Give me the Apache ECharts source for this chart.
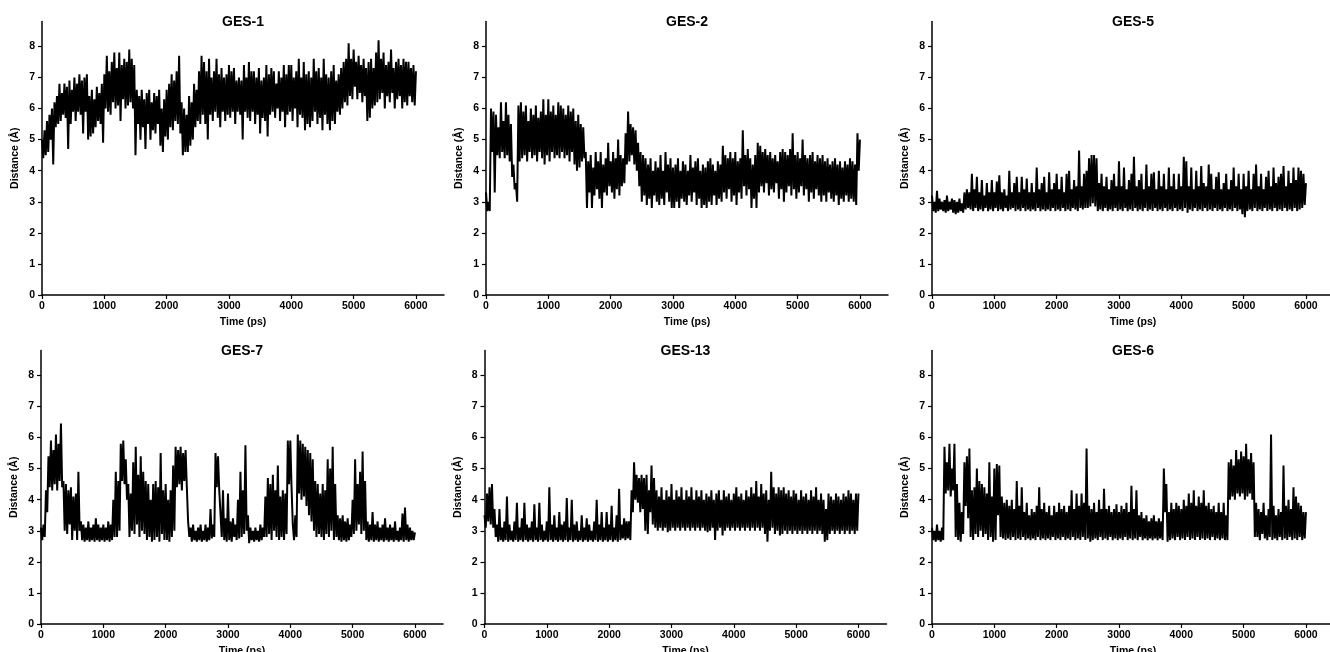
<!DOCTYPE html>
<html>
<head>
<meta charset="utf-8">
<title>GES distance</title>
<script src="https://cdn.jsdelivr.net/npm/echarts@6/dist/echarts.min.js"></script>
<style>
  html, body { margin: 0; padding: 0; background: #fff; }
  #dist-chart { width: 1330px; height: 652px; }
</style>
</head>
<body>
<div id="dist-chart"></div>
<script>
// upper samples at 0,40,80.. ps, lower samples at 20,60,100.. ps
const stepPs = 40;
const panelNames = ['GES-1', 'GES-2', 'GES-5', 'GES-7', 'GES-13', 'GES-6'];
const timeTicks = [0, 1000, 2000, 3000, 4000, 5000, 6000];
const distTicks = [0, 1, 2, 3, 4, 5, 6, 7, 8];

const ges1Hi = [5.0, 5.3, 5.6, 5.8, 6.0, 6.2, 6.4, 6.8, 6.5, 6.8, 6.7, 6.9, 6.6, 7.0, 6.8, 7.1, 6.9, 7.0, 7.1, 6.4,
  6.6, 6.3, 6.7, 6.5, 6.8, 7.1, 7.7, 7.2, 7.5, 7.8, 7.3, 7.8, 7.4, 7.6, 7.5, 7.9, 7.6, 7.4, 6.6, 6.4,
  6.6, 6.3, 6.5, 6.6, 6.2, 6.5, 6.4, 6.6, 6.0, 6.3, 6.6, 6.8, 7.1, 6.9, 7.2, 7.7, 6.2, 6.0, 5.8, 6.4,
  6.2, 6.8, 6.6, 7.2, 7.7, 7.5, 7.2, 7.6, 7.0, 7.2, 7.6, 7.1, 7.3, 7.0, 7.1, 7.4, 7.2, 7.3, 6.9, 7.0,
  6.9, 7.4, 7.0, 7.5, 7.2, 7.2, 7.0, 7.3, 6.9, 7.0, 7.4, 7.1, 7.3, 7.2, 6.8, 7.2, 7.0, 7.4, 7.1, 7.4,
  7.4, 7.0, 7.2, 7.6, 7.0, 7.5, 7.1, 7.2, 7.0, 7.6, 7.2, 7.3, 7.0, 7.6, 7.1, 7.0, 7.2, 7.4, 6.9, 7.1,
  7.3, 7.5, 7.6, 8.1, 7.6, 7.9, 7.5, 7.7, 7.4, 7.6, 7.3, 7.5, 7.6, 7.3, 7.8, 8.2, 7.6, 7.8, 7.4, 7.5,
  7.9, 7.3, 7.5, 7.6, 7.4, 7.6, 7.5, 7.5, 7.3, 7.4, 7.2];
const ges1Lo = [4.4, 4.5, 4.6, 5.0, 4.2, 5.4, 5.5, 5.6, 5.8, 5.7, 4.7, 5.5, 5.9, 5.6, 5.9, 5.8, 5.2, 5.9, 5.0, 5.1,
  5.2, 5.4, 5.6, 5.5, 4.9, 6.0, 5.9, 5.8, 6.2, 6.0, 6.1, 5.6, 6.3, 6.0, 6.1, 6.2, 6.0, 4.5, 5.5, 5.0,
  5.4, 4.7, 5.5, 5.0, 5.3, 5.2, 5.5, 4.8, 4.6, 5.1, 5.0, 5.4, 5.3, 5.6, 5.5, 5.2, 4.5, 4.6, 4.6, 4.8,
  5.0, 5.4, 5.6, 5.5, 5.8, 5.5, 5.0, 5.8, 5.6, 5.9, 5.7, 5.4, 5.9, 5.6, 5.8, 5.7, 5.9, 5.5, 5.9, 5.8,
  5.0, 5.9, 5.7, 5.6, 5.9, 5.5, 5.8, 5.2, 5.7, 5.6, 5.1, 5.8, 5.9, 5.7, 6.0, 5.6, 5.9, 5.4, 5.8, 5.9,
  5.6, 6.0, 5.4, 5.8, 5.7, 5.3, 5.5, 5.4, 5.6, 5.9, 5.5, 5.7, 5.3, 5.8, 5.5, 5.3, 5.6, 5.5, 5.9, 5.8,
  6.0, 6.2, 6.1, 6.4, 6.3, 6.7, 6.3, 6.5, 6.2, 6.4, 5.6, 5.7, 6.0, 6.1, 6.2, 6.3, 6.5, 6.0, 6.4, 6.2,
  6.5, 6.0, 6.3, 6.4, 6.0, 6.2, 6.1, 6.4, 6.2, 6.1];

const ges2Hi = [3.3, 3.0, 6.0, 5.9, 5.8, 5.4, 6.2, 5.6, 6.2, 5.8, 5.5, 4.2, 3.6, 6.1, 6.2, 5.9, 6.1, 5.6, 6.0, 5.8,
  6.1, 5.7, 5.9, 6.3, 5.8, 6.3, 5.9, 6.1, 5.8, 6.2, 6.1, 6.0, 5.8, 6.1, 5.9, 6.0, 5.6, 5.8, 5.5, 5.4,
  4.6, 4.3, 4.5, 4.1, 4.6, 4.3, 4.6, 4.2, 4.4, 4.9, 4.3, 4.6, 4.4, 5.0, 4.5, 4.4, 5.2, 5.9, 5.5, 5.4,
  5.3, 4.9, 4.6, 4.5, 4.4, 4.2, 4.4, 4.0, 4.3, 4.1, 4.5, 4.0, 4.6, 4.2, 4.4, 4.1, 4.2, 4.4, 4.0, 4.3,
  4.2, 4.0, 4.5, 4.1, 4.3, 4.4, 4.0, 4.2, 4.1, 4.3, 4.4, 4.2, 4.0, 4.3, 4.2, 4.8, 4.5, 4.4, 4.6, 4.4,
  4.6, 4.3, 4.4, 5.3, 4.5, 4.7, 4.4, 4.2, 4.5, 4.9, 4.8, 4.6, 4.7, 4.5, 4.6, 4.4, 4.5, 4.3, 4.6, 4.7,
  4.6, 4.5, 4.7, 5.2, 4.5, 4.6, 4.4, 5.0, 4.5, 4.4, 4.5, 4.6, 4.3, 4.5, 4.4, 4.5, 4.3, 4.4, 4.2, 4.3,
  4.4, 4.2, 4.3, 4.1, 4.3, 4.2, 4.4, 4.3, 4.2, 5.2, 5.0];
const ges2Lo = [2.7, 2.7, 4.6, 3.3, 4.5, 4.4, 4.6, 4.4, 4.5, 4.3, 3.8, 3.4, 3.0, 4.3, 4.4, 4.5, 4.3, 4.6, 4.4, 4.5,
  4.3, 4.6, 4.4, 4.2, 4.5, 4.3, 4.6, 4.4, 4.5, 4.4, 4.6, 4.4, 4.5, 4.3, 4.6, 4.2, 4.0, 4.1, 4.3, 4.4,
  2.8, 3.3, 2.8, 3.2, 3.4, 3.1, 2.8, 3.3, 3.2, 3.5, 3.3, 3.1, 3.4, 3.2, 3.5, 3.6, 4.2, 4.3, 4.5, 4.2,
  4.0, 3.5, 3.0, 3.2, 2.9, 3.1, 2.8, 3.2, 3.0, 2.9, 3.1, 2.9, 3.3, 3.0, 2.8, 2.8, 3.0, 2.8, 3.1, 3.0,
  2.9, 3.2, 3.0, 3.3, 2.9, 3.1, 2.8, 2.9, 2.8, 3.0, 2.9, 3.2, 2.9, 3.1, 3.0, 3.3, 3.1, 3.4, 3.0, 3.2,
  2.9, 3.3, 3.1, 3.5, 3.2, 3.4, 2.8, 3.1, 2.8, 3.3, 3.5, 3.3, 3.6, 3.2, 3.4, 3.3, 3.6, 3.1, 3.4, 3.0,
  3.3, 3.5, 3.2, 3.4, 3.1, 3.3, 3.5, 3.2, 3.4, 3.0, 3.3, 3.1, 3.4, 3.2, 3.0, 3.2, 3.0, 3.3, 3.1, 3.0,
  3.2, 2.9, 3.1, 3.0, 3.2, 3.0, 3.1, 3.0, 2.9, 4.0];

const ges5Hi = [3.2, 3.0, 3.35, 3.1, 3.0, 3.05, 3.2, 3.0, 3.1, 3.05, 3.0, 3.1, 2.95, 3.3, 3.4, 3.3, 3.9, 3.4, 3.8, 3.3,
  3.7, 3.2, 3.6, 3.3, 3.7, 3.3, 3.65, 3.85, 3.3, 3.4, 3.2, 4.0, 3.3, 3.6, 3.8, 3.3, 3.8, 3.4, 3.75, 3.3,
  3.6, 3.3, 4.1, 3.4, 3.6, 3.8, 3.3, 3.95, 3.4, 3.6, 3.9, 3.4, 3.8, 3.3, 3.9, 4.0, 3.4, 3.7, 3.5, 4.65,
  3.5, 3.9, 4.0, 4.4, 4.5, 4.5, 4.4, 3.6, 3.9, 3.5, 3.8, 3.4, 3.7, 3.9, 3.5, 4.3, 3.5, 4.1, 3.4, 3.7,
  3.9, 4.45, 3.5, 3.7, 3.9, 3.4, 4.2, 3.5, 3.9, 3.95, 3.4, 4.0, 3.5, 3.9, 3.4, 4.1, 3.5, 3.9, 3.4, 3.9,
  3.5, 4.45, 4.3, 3.5, 4.1, 3.4, 4.0, 3.5, 4.15, 3.6, 3.5, 4.2, 3.9, 3.4, 3.8, 3.95, 3.4, 3.6, 3.9, 3.4,
  3.7, 4.1, 3.5, 3.9, 3.4, 3.9, 3.5, 4.0, 3.4, 3.9, 4.2, 3.5, 3.9, 3.4, 3.8, 4.0, 3.5, 4.1, 3.6, 3.8,
  3.9, 4.15, 3.5, 4.0, 3.6, 4.1, 3.7, 4.1, 4.0, 3.9, 3.6];
const ges5Lo = [2.7, 2.65, 2.7, 2.75, 2.7, 2.65, 2.7, 2.75, 2.65, 2.6, 2.65, 2.7, 2.65, 2.75, 2.8, 2.75, 2.7, 2.8, 2.7, 2.75,
  2.7, 2.8, 2.7, 2.75, 2.7, 2.8, 2.7, 2.75, 2.7, 2.8, 2.7, 2.75, 2.8, 2.7, 2.75, 2.7, 2.8, 2.7, 2.75, 2.7,
  2.75, 2.7, 2.8, 2.7, 2.75, 2.7, 2.75, 2.7, 2.8, 2.7, 2.75, 2.7, 2.8, 2.7, 2.75, 2.7, 2.8, 2.75, 2.7, 2.8,
  2.75, 2.8, 2.8, 2.85, 2.95, 2.85, 2.7, 2.75, 2.7, 2.8, 2.7, 2.75, 2.7, 2.8, 2.7, 2.75, 2.7, 2.8, 2.7, 2.75,
  2.7, 2.8, 2.7, 2.75, 2.7, 2.8, 2.7, 2.75, 2.7, 2.8, 2.7, 2.75, 2.7, 2.8, 2.7, 2.75, 2.7, 2.8, 2.7, 2.75,
  2.7, 2.8, 2.65, 2.75, 2.7, 2.8, 2.7, 2.75, 2.7, 2.8, 2.7, 2.75, 2.7, 2.8, 2.7, 2.75, 2.7, 2.8, 2.7, 2.75,
  2.7, 2.8, 2.7, 2.75, 2.6, 2.5, 2.7, 2.75, 2.7, 2.8, 2.7, 2.75, 2.7, 2.8, 2.7, 2.75, 2.7, 2.8, 2.7, 2.75,
  2.7, 2.8, 2.7, 2.75, 2.7, 2.8, 2.7, 2.75, 2.8, 2.9];

const ges7Hi = [3.1, 3.2, 4.3, 5.4, 5.9, 5.6, 6.1, 5.8, 6.45, 4.6, 4.5, 4.3, 4.4, 4.1, 4.2, 4.9, 3.3, 3.2, 3.1, 3.3,
  3.1, 3.2, 3.4, 3.2, 3.1, 3.2, 3.1, 3.3, 3.2, 4.0, 4.9, 4.6, 5.8, 5.9, 5.3, 4.5, 4.2, 5.2, 5.7, 4.8,
  5.4, 4.9, 4.6, 4.5, 4.0, 4.5, 4.6, 4.4, 5.5, 4.3, 4.5, 4.0, 4.3, 5.1, 5.7, 5.6, 5.7, 5.5, 5.6, 3.3,
  3.1, 3.2, 3.0, 3.1, 3.2, 3.0, 3.2, 3.1, 3.7, 3.2, 5.5, 5.4, 4.3, 4.3, 3.4, 4.2, 3.3, 3.4, 3.2, 4.0,
  4.9, 4.3, 5.75, 3.5, 3.1, 3.0, 3.1, 3.0, 3.2, 3.1, 4.1, 4.7, 4.5, 4.8, 4.3, 5.1, 4.1, 4.3, 4.2, 5.9,
  5.9, 3.2, 3.5, 6.1, 5.9, 5.8, 5.7, 5.6, 5.5, 5.3, 4.6, 4.5, 4.2, 4.5, 4.3, 5.3, 5.0, 5.7, 4.5, 3.5,
  3.4, 3.5, 3.3, 3.4, 3.2, 4.0, 5.3, 4.5, 4.9, 5.55, 4.6, 3.3, 3.2, 3.6, 3.2, 3.3, 3.1, 3.2, 3.4, 3.1,
  3.2, 3.1, 3.3, 3.0, 3.1, 3.55, 3.75, 3.2, 3.1, 3.0, 2.95];
const ges7Lo = [2.7, 2.8, 3.6, 4.4, 4.3, 4.5, 4.3, 4.6, 4.4, 3.0, 2.9, 3.2, 2.7, 3.0, 2.7, 3.0, 2.7, 2.65, 2.7, 2.65,
  2.7, 2.65, 2.7, 2.65, 2.7, 2.65, 2.7, 2.65, 2.7, 2.8, 2.8, 3.0, 4.6, 4.5, 4.0, 2.8, 3.0, 2.9, 3.2, 2.8,
  3.0, 2.9, 2.7, 2.8, 2.65, 2.7, 2.8, 2.65, 2.9, 2.7, 2.7, 2.65, 2.8, 3.0, 4.4, 4.5, 4.3, 4.6, 4.4, 2.8,
  2.65, 2.7, 2.65, 2.7, 2.65, 2.7, 2.65, 2.7, 2.75, 2.8, 4.4, 4.3, 2.8, 2.7, 2.65, 2.7, 2.65, 2.8, 2.7, 2.75,
  2.8, 2.9, 3.0, 2.6, 2.7, 2.65, 2.7, 2.65, 2.7, 2.8, 2.8, 2.9, 2.7, 3.0, 2.8, 2.7, 2.8, 2.7, 2.9, 4.5,
  4.4, 2.7, 2.8, 4.2, 4.0, 4.1, 3.8, 3.5, 3.3, 3.0, 2.8, 2.9, 2.8, 2.7, 2.9, 2.8, 3.0, 2.7, 2.8, 2.7,
  2.65, 2.7, 2.65, 2.7, 2.8, 2.9, 3.0, 3.2, 2.9, 3.0, 2.7, 2.65, 2.7, 2.65, 2.7, 2.65, 2.7, 2.65, 2.7, 2.65,
  2.7, 2.65, 2.7, 2.65, 2.7, 2.65, 2.7, 2.65, 2.7, 2.7];

const ges13Hi = [3.5, 4.2, 4.4, 4.5, 3.7, 3.2, 3.7, 3.1, 3.3, 4.1, 3.2, 3.0, 3.3, 3.9, 3.1, 3.4, 3.9, 3.2, 3.1, 3.3,
  3.85, 3.1, 3.9, 3.2, 3.0, 3.3, 4.4, 3.2, 3.5, 3.1, 3.6, 3.2, 3.3, 4.05, 3.1, 4.0, 3.2, 3.3, 3.0, 3.5,
  3.1, 3.4, 3.2, 3.0, 3.3, 4.0, 3.2, 3.6, 3.1, 3.6, 3.2, 3.8, 3.1, 3.5, 4.35, 3.2, 3.4, 3.3, 3.3, 4.3,
  5.2, 4.8, 4.7, 4.8, 4.7, 4.8, 4.3, 5.1, 4.7, 4.3, 4.1, 4.4, 4.0, 4.3, 4.1, 4.5, 4.0, 4.3, 4.1, 4.4,
  4.0, 4.3, 4.1, 4.4, 4.0, 4.3, 4.1, 4.3, 4.0, 4.2, 4.1, 4.3, 4.0, 4.2, 4.3, 4.0, 4.3, 4.1, 4.2, 4.0,
  4.2, 4.4, 4.1, 4.2, 4.0, 4.3, 4.1, 4.4, 4.2, 4.6, 4.1, 4.5, 4.2, 4.3, 4.0, 4.9, 4.4, 4.2, 4.4, 4.3,
  4.4, 4.2, 4.3, 4.1, 4.3, 4.2, 4.0, 4.3, 4.1, 4.2, 4.0, 4.3, 4.1, 4.4, 4.0, 4.2, 4.0, 3.7, 4.2, 4.1,
  4.0, 4.2, 4.1, 4.0, 4.2, 4.1, 4.3, 4.2, 4.0, 4.2, 4.2];
const ges13Lo = [3.1, 3.3, 3.2, 3.1, 2.8, 2.65, 2.7, 2.65, 2.7, 2.65, 2.7, 2.65, 2.7, 2.65, 2.7, 2.65, 2.7, 2.65, 2.7, 2.65,
  2.7, 2.65, 2.7, 2.65, 2.7, 2.65, 2.7, 2.65, 2.7, 2.65, 2.7, 2.65, 2.7, 2.65, 2.7, 2.65, 2.7, 2.65, 2.7, 2.65,
  2.7, 2.65, 2.7, 2.65, 2.7, 2.65, 2.7, 2.65, 2.7, 2.65, 2.7, 2.65, 2.7, 2.65, 2.7, 2.75, 2.7, 2.75, 2.7, 3.6,
  4.0, 3.9, 3.6, 3.7, 3.0, 2.9, 3.6, 3.2, 3.1, 3.0, 3.1, 3.0, 3.1, 2.95, 3.0, 3.1, 3.0, 3.1, 3.0, 3.1,
  3.0, 3.1, 3.0, 3.1, 3.0, 3.1, 3.0, 3.1, 3.0, 2.95, 3.0, 3.1, 2.7, 3.0, 3.1, 2.85, 3.0, 3.1, 3.0, 3.1,
  3.0, 3.1, 3.0, 3.1, 3.0, 3.1, 3.0, 3.1, 3.0, 3.1, 3.0, 3.1, 2.9, 2.65, 3.0, 3.1, 2.9, 3.0, 2.85, 2.9,
  3.0, 2.9, 3.0, 2.9, 3.0, 2.9, 3.0, 2.9, 3.0, 2.9, 3.0, 2.9, 3.0, 2.9, 3.0, 2.9, 2.65, 2.7, 2.9, 3.0,
  2.9, 3.0, 2.9, 3.0, 2.9, 3.0, 2.9, 3.0, 2.9, 3.0];

const ges6Hi = [3.1, 3.0, 3.2, 3.0, 3.1, 5.7, 5.2, 5.8, 5.0, 5.8, 4.5, 3.9, 3.6, 5.2, 5.4, 5.65, 4.3, 4.4, 5.0, 4.6,
  4.5, 4.4, 4.2, 5.2, 4.1, 5.0, 5.15, 5.1, 4.1, 3.9, 4.0, 3.8, 4.0, 3.7, 4.6, 3.8, 4.4, 3.6, 3.9, 3.5,
  3.7, 3.6, 3.8, 4.4, 3.7, 3.9, 3.6, 3.8, 3.5, 3.8, 3.6, 3.9, 3.7, 3.8, 3.6, 3.8, 4.3, 3.7, 4.2, 3.8,
  4.2, 3.9, 5.65, 3.8, 3.7, 3.9, 3.6, 4.0, 3.7, 4.35, 3.7, 3.8, 3.6, 3.7, 3.85, 3.6, 3.8, 3.7, 3.9, 3.6,
  4.45, 3.7, 4.3, 3.5, 3.6, 3.4, 3.5, 3.3, 3.4, 3.5, 3.3, 3.4, 3.3, 5.0, 4.5, 3.6, 3.9, 3.7, 3.9, 3.8,
  3.7, 4.0, 3.8, 4.2, 3.9, 4.3, 3.8, 4.1, 3.9, 4.3, 3.8, 3.9, 3.7, 3.8, 3.6, 3.9, 3.6, 3.9, 3.5, 5.2,
  5.3, 5.1, 5.6, 5.3, 5.55, 5.4, 5.8, 5.3, 5.5, 5.2, 3.9, 3.7, 3.6, 3.9, 3.5, 3.7, 6.1, 3.8, 3.5, 3.7,
  3.6, 5.1, 3.8, 4.0, 3.7, 4.4, 4.1, 3.9, 3.8, 3.6, 3.6];
const ges6Lo = [2.7, 2.65, 2.7, 2.65, 2.7, 4.2, 4.3, 4.1, 4.3, 2.8, 2.7, 2.65, 2.9, 3.8, 3.4, 2.8, 2.7, 2.9, 2.8, 3.0,
  2.8, 2.9, 2.7, 2.8, 2.65, 2.7, 3.5, 2.8, 2.75, 2.7, 2.75, 2.7, 2.8, 2.7, 2.75, 2.7, 2.8, 2.7, 2.75, 2.7,
  2.75, 2.7, 2.8, 2.7, 2.75, 2.7, 2.75, 2.7, 2.8, 2.7, 2.75, 2.7, 2.8, 2.7, 2.75, 2.7, 2.8, 2.7, 2.75, 2.7,
  2.8, 2.7, 2.75, 2.65, 2.7, 2.75, 2.7, 2.8, 2.7, 2.75, 2.7, 2.8, 2.7, 2.75, 2.7, 2.75, 2.7, 2.8, 2.7, 2.75,
  2.7, 2.75, 2.7, 2.8, 2.7, 2.75, 2.7, 2.75, 2.7, 2.75, 2.7, 2.75, 2.7, 3.6, 2.65, 2.7, 2.75, 2.7, 2.8, 2.7,
  2.75, 2.7, 2.8, 2.7, 2.75, 2.7, 2.8, 2.7, 2.75, 2.7, 2.75, 2.7, 2.8, 2.7, 2.75, 2.7, 2.75, 2.7, 2.7, 4.0,
  4.1, 4.0, 4.2, 4.1, 4.2, 4.0, 4.1, 4.2, 4.0, 2.8, 2.8, 2.7, 2.9, 2.75, 2.7, 2.8, 2.7, 2.75, 2.7, 2.8,
  2.7, 2.75, 2.7, 2.8, 2.7, 2.75, 2.7, 2.8, 2.7, 2.75];

const panelHi = [ges1Hi, ges2Hi, ges5Hi, ges7Hi, ges13Hi, ges6Hi];
const panelLo = [ges1Lo, ges2Lo, ges5Lo, ges7Lo, ges13Lo, ges6Lo];

// grid boxes in px: [left, top, width, height]
const boxes = [
  [42, 21.5, 402, 273.5], [486, 21.5, 402, 273.5], [932, 21.5, 402, 273.5],
  [41, 350.5, 402, 273.5], [484.5, 350.5, 402, 273.5], [932, 350.5, 402, 273.5]
];

const boldFont = 'Liberation Sans, Arial, sans-serif';

function toPairs(hi, lo) {
  let out = [];
  hi.forEach(function (h, j) {
    out.push([j * stepPs, h]);
    if (j < lo.length) out.push([j * stepPs + stepPs / 2, lo[j]]);
  });
  return out;
}

let myChart = echarts.init(document.getElementById('dist-chart'));

let grids = [], xAxes = [], yAxes = [], series = [], titles = [];
boxes.forEach(function (b, k) {
  grids.push({ left: b[0], top: b[1], width: b[2], height: b[3], containLabel: false, outerBoundsMode: 'none' });
  titles.push({
    text: panelNames[k],
    left: b[0] + b[2] / 2,
    top: b[1] - 6,
    textAlign: 'center',
    padding: 0,
    textStyle: { fontFamily: boldFont, fontWeight: 'bold', fontSize: 14, color: '#000' }
  });
  xAxes.push({
    type: 'value', gridIndex: k, min: 0, max: 6450,
    name: 'Time (ps)', nameLocation: 'middle', nameGap: 22,
    nameTextStyle: { fontFamily: boldFont, fontWeight: 'bold', fontSize: 10.5, color: '#000' },
    axisLine: { onZero: false, lineStyle: { color: '#000', width: 1.5 } },
    axisTick: { length: 4, lineStyle: { color: '#000', width: 1.2 }, customValues: timeTicks },
    axisLabel: {
      customValues: timeTicks, margin: 6, fontFamily: boldFont, fontWeight: 'bold', fontSize: 10.5, color: '#000',
      formatter: function (v) { return String(v); }
    },
    splitLine: { show: false }
  });
  yAxes.push({
    type: 'value', gridIndex: k, min: 0, max: 8.8,
    name: 'Distance (Å)', nameLocation: 'middle', nameGap: 21,
    nameTextStyle: { fontFamily: boldFont, fontWeight: 'bold', fontSize: 10.5, color: '#000' },
    axisLine: { show: true, onZero: false, lineStyle: { color: '#000', width: 1.5 } },
    axisTick: { show: true, length: 4, lineStyle: { color: '#000', width: 1.2 }, customValues: distTicks },
    axisLabel: { customValues: distTicks, margin: 7, fontFamily: boldFont, fontWeight: 'bold', fontSize: 10.5, color: '#000' },
    splitLine: { show: false }
  });
  series.push({
    type: 'line', xAxisIndex: k, yAxisIndex: k,
    data: toPairs(panelHi[k], panelLo[k]),
    showSymbol: false, symbol: 'none',
    lineStyle: { color: '#000', width: 2, join: 'miter', miterLimit: 2 },
    animation: false
  });
});

let option = {
  backgroundColor: '#fff',
  animation: false,
  title: titles,
  grid: grids,
  xAxis: xAxes,
  yAxis: yAxes,
  series: series
};
myChart.setOption(option);
</script>
</body>
</html>
